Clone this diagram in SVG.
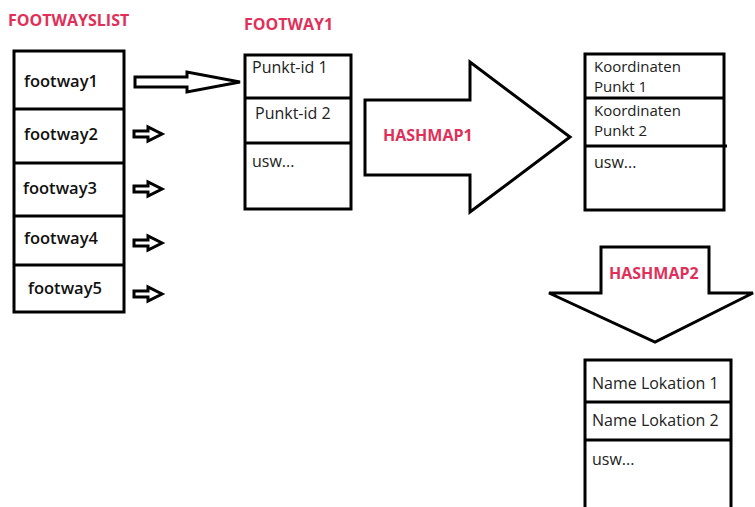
<svg xmlns="http://www.w3.org/2000/svg" width="755" height="507" viewBox="0 0 755 507">
<style>
.box{fill:#fff;stroke:#000;stroke-width:3}
.div{stroke:#000;stroke-width:3}
.arr{fill:#fff;stroke:#000;stroke-width:3;stroke-linejoin:miter}
.red{font-family:"Open Sans","Noto Sans",sans-serif;font-weight:bold;font-size:16px;fill:#e0305a}
.fw{font-family:"Open Sans","Noto Sans",sans-serif;font-weight:600;font-size:16.5px;fill:#111}
.t{font-family:"Open Sans","Noto Sans",sans-serif;font-size:16px;fill:#222}
.k{font-family:"Open Sans","Noto Sans",sans-serif;font-size:15px;fill:#222}
</style>
<rect width="755" height="507" fill="#fff"/>
<text class="red" x="8" y="26">FOOTWAYSLIST</text>
<text class="red" x="244" y="30">FOOTWAY1</text>
<g id="footwayslist">
<rect class="box" x="14" y="51" width="110" height="261"/>
<line class="div" x1="14" y1="109" x2="124" y2="109"/>
<line class="div" x1="14" y1="163" x2="124" y2="163"/>
<line class="div" x1="14" y1="216" x2="124" y2="216"/>
<line class="div" x1="14" y1="265" x2="124" y2="265"/>
<text class="fw" x="24" y="87">footway1</text>
<text class="fw" x="24" y="140">footway2</text>
<text class="fw" x="23" y="194">footway3</text>
<text class="fw" x="24" y="244">footway4</text>
<text class="fw" x="28" y="294">footway5</text>
</g>
<g id="footway1">
<rect class="box" x="245" y="55" width="106" height="154"/>
<line class="div" x1="245" y1="98" x2="351" y2="98"/>
<line class="div" x1="245" y1="143" x2="351" y2="143"/>
<text class="t" x="252" y="73">Punkt-id 1</text>
<text class="t" x="255" y="119">Punkt-id 2</text>
<text class="t" x="252" y="167">usw...</text>
</g>
<g id="koordinaten">
<rect class="box" x="585" y="54" width="139" height="156"/>
<line class="div" x1="585" y1="98" x2="724" y2="98"/>
<line class="div" x1="585" y1="146" x2="727" y2="146"/>
<text class="k" x="594" y="72">Koordinaten</text>
<text class="k" x="594" y="92">Punkt 1</text>
<text class="k" x="594" y="116">Koordinaten</text>
<text class="k" x="594" y="136">Punkt 2</text>
<text class="t" x="594" y="168">usw...</text>
</g>
<g id="namelokation">
<rect class="box" x="585" y="360" width="146" height="160"/>
<line class="div" x1="585" y1="402" x2="731" y2="402"/>
<line class="div" x1="585" y1="440" x2="731" y2="440"/>
<text class="t" x="592" y="389">Name Lokation 1</text>
<text class="t" x="592" y="426">Name Lokation 2</text>
<text class="t" x="592" y="465">usw...</text>
</g>
<g id="connectors">
<polygon class="arr" points="135,77 187,77 187,72 240,82 187,92 187,87 135,87"/>
<polygon class="arr" points="134,131 148,131 148,127 162,134 148,141 148,137 134,137"/>
<polygon class="arr" points="134,186 148,186 148,182 162,189 148,196 148,192 134,192"/>
<polygon class="arr" points="134,240 148,240 148,236 162,243 148,250 148,246 134,246"/>
<polygon class="arr" points="134,291 148,291 148,287 162,294 148,301 148,297 134,297"/>
<polygon class="arr" points="365,100 470,100 470,62 570,137 470,212 470,175 365,175"/>
<polygon class="arr" points="601,247 709,247 709,293 753,293 655,342 549,293 601,293"/>
<text class="red" x="383" y="141">HASHMAP1</text>
<text class="red" x="609" y="279">HASHMAP2</text>
</g>
</svg>
